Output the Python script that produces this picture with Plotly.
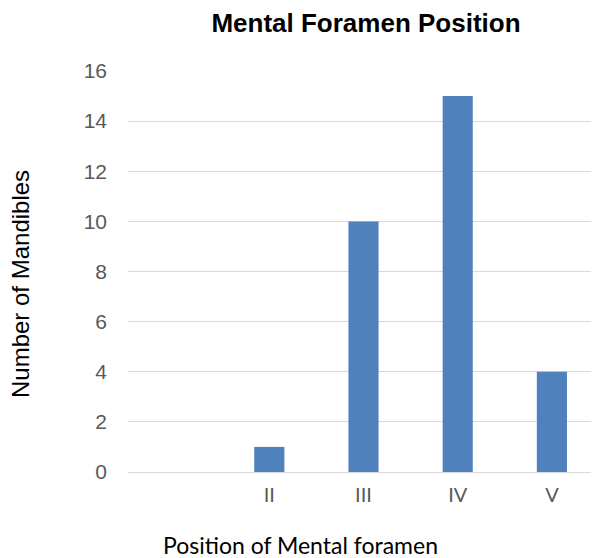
import plotly.graph_objects as go

categories = [" ", "II", "III", "IV", "V"]
counts = [0, 1, 10, 15, 4]
y_ticks = [0, 2, 4, 6, 8, 10, 12, 14, 16]

W, H = 591, 550
L, R, T, B = 120, 0, 63, 86
PW, PH = W - L - R, H - T - B

fig = go.Figure(go.Bar(
    x=categories, y=counts,
    marker=dict(color="#4f81bd", line=dict(width=0)),
    width=0.32,
))

fig.update_layout(
    width=W, height=H,
    margin=dict(l=L, r=R, t=T, b=B),
    plot_bgcolor="white", paper_bgcolor="white",
    showlegend=False,
    title=dict(text="<b>Mental Foramen Position</b>", x=358 / W, xanchor="center",
               y=1 - 15 / H, yanchor="middle",
               font=dict(family="Liberation Sans, Arial", size=26, color="black")),
    xaxis=dict(type="category", showgrid=False, showline=False, zeroline=False,
               ticks="", tickfont=dict(family="Lato", size=20, color="#595959"),
               ticklabelstandoff=9),
    yaxis=dict(range=[0, 16], tickvals=y_ticks, showgrid=True, gridcolor="#d9d9d9",
               gridwidth=1, zeroline=True, zerolinecolor="#d9d9d9", zerolinewidth=1,
               showline=False, ticks="",
               tickfont=dict(family="Liberation Sans, Arial", size=21, color="#595959"),
               ticklabelstandoff=20),
    annotations=[
        dict(text="Position of Mental foramen", xref="paper", yref="paper",
             x=(292 - L) / PW, y=-(537 - (H - B)) / PH, xanchor="center", yanchor="middle",
             showarrow=False, font=dict(family="Lato", size=23, color="black")),
        dict(text="Number of Mandibles", xref="paper", yref="paper",
             x=-(L - 12) / PW, y=((H - B) - 276) / PH, xanchor="center", yanchor="middle",
             textangle=-90, showarrow=False,
             font=dict(family="Liberation Sans, Arial", size=24, color="black")),
    ],
)

fig.write_html("out.html")
